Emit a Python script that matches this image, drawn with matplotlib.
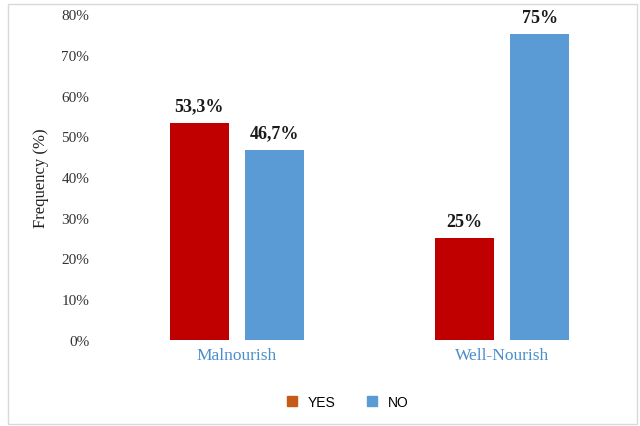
import numpy as np
import matplotlib
matplotlib.use("Agg")
import matplotlib.pyplot as plt
from matplotlib.patches import Rectangle

# ── Data ──────────────────────────────────────────────────────────────────────
categories = ["Malnourish", "Well-Nourish"]
series_names = ["YES", "NO"]
yes_values = [53.3, 25.0]
no_values = [46.7, 75.0]
yes_labels = ["53,3%", "25%"]
no_labels = ["46,7%", "75%"]
y_ticks = [0, 10, 20, 30, 40, 50, 60, 70, 80]

# ── Style ─────────────────────────────────────────────────────────────────────
RED = "#C00000"
BLUE = "#5B9BD5"
LEGEND_ORANGE = "#C55A1A"
CAT_BLUE = "#4A8DCB"
SERIF = "Liberation Serif"

fig = plt.figure(figsize=(6.4, 4.27), dpi=100)
fig.patch.set_facecolor("white")

# light grey chart-area border
fig.patches.append(Rectangle((8 / 640, 2 / 427), 629 / 640, 420 / 427,
                             transform=fig.transFigure, fill=False,
                             edgecolor="#D9D9D9", linewidth=1.0))

ax = fig.add_axes([104.5 / 640, 86 / 427, 530 / 640, 326 / 427])

x = np.arange(len(categories))
width = 0.223
offset = 0.143

b_yes = ax.bar(x - offset, yes_values, width, color=RED, label=series_names[0])
b_no = ax.bar(x + offset, no_values, width, color=BLUE, label=series_names[1])

for bars, labels in ((b_yes, yes_labels), (b_no, no_labels)):
    for rect, lab in zip(bars, labels):
        ax.annotate(lab, (rect.get_x() + rect.get_width() / 2, rect.get_height()),
                    xytext=(0, 6), textcoords="offset points",
                    ha="center", va="bottom", fontsize=13,
                    fontweight="bold", family=SERIF, color="#1a1a1a")

ax.set_xlim(-0.5, 1.5)
ax.set_ylim(0, 80)
ax.set_yticks(y_ticks)
ax.set_yticklabels([f"{t}%" for t in y_ticks], family=SERIF, fontsize=11,
                   color="#333333")
ax.set_xticks(x)
ax.set_xticklabels(categories, family=SERIF, fontsize=12.5, color=CAT_BLUE)
ax.tick_params(axis="both", length=0)
ax.tick_params(axis="y", pad=11)
ax.tick_params(axis="x", pad=5)

for side in ("top", "right", "left", "bottom"):
    ax.spines[side].set_visible(False)

ax.set_ylabel("Frequency (%)", family=SERIF, fontsize=12, color="#222222")
ax.yaxis.set_label_coords(-0.105, 0.5)

handles = [Rectangle((0, 0), 1, 1, color=LEGEND_ORANGE),
           Rectangle((0, 0), 1, 1, color=BLUE)]
fig.legend(handles, series_names, loc="center", ncol=2,
           bbox_to_anchor=(348 / 640, 24 / 427), frameon=False,
           prop={"family": "Liberation Sans", "size": 10},
           handlelength=0.7, handleheight=0.7, columnspacing=2.3,
           handletextpad=0.8)

fig.savefig("out.png", dpi=100)
